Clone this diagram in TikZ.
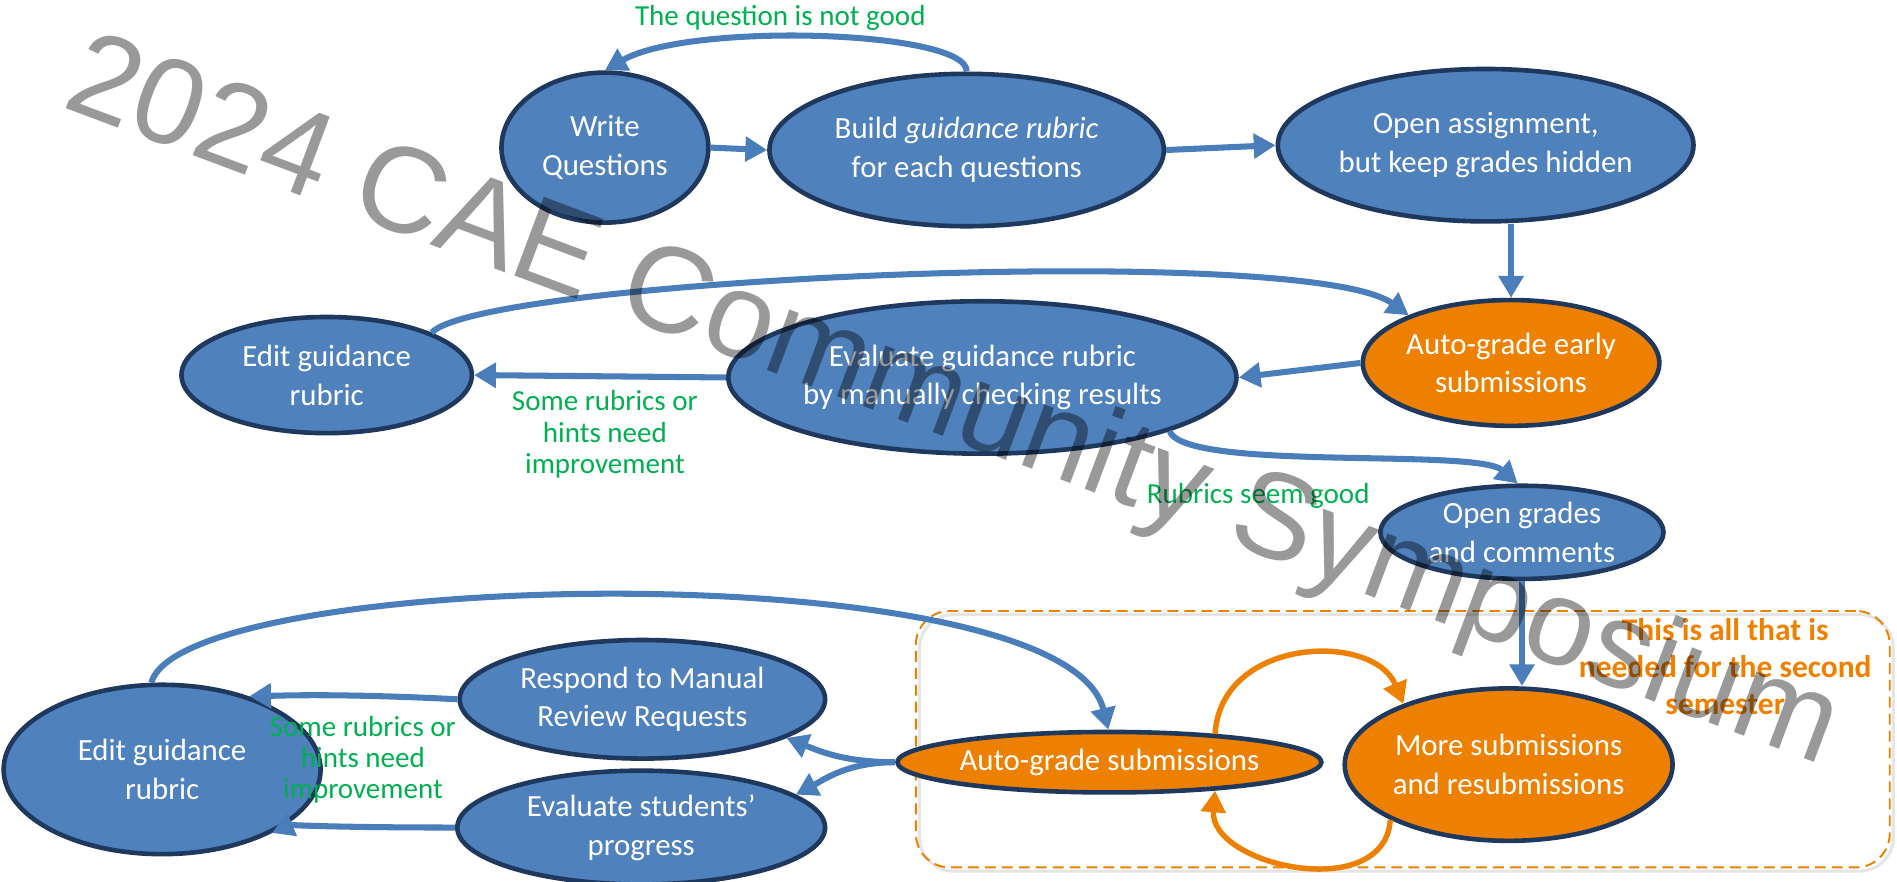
\documentclass[tikz,border=0pt]{standalone}
\usepackage{fontspec}
\setmainfont{Carlito}
\newfontfamily\wmfont{Liberation Sans}
\usetikzlibrary{arrows.meta,shapes.geometric}

\definecolor{nodeblue}{RGB}{79,129,189}
\definecolor{navy}{RGB}{31,56,93}
\definecolor{arrowblue}{RGB}{74,126,187}
\definecolor{orangefill}{RGB}{238,128,0}
\definecolor{labelgreen}{RGB}{0,176,80}

\begin{document}
\begin{tikzpicture}[x=1pt,y=-1pt,
  proc/.style={ellipse, draw=navy, line width=3.8pt, fill=nodeblue, text=white,
    align=center, inner sep=0pt, font=\fontsize{25.5}{32}\selectfont},
  autobox/.style={proc, fill=orangefill},
  flow/.style={draw=arrowblue, line width=5pt, -{Triangle[length=18pt,width=20pt]}},
  cycle/.style={draw=orangefill, line width=4.5pt, -{Triangle[length=18pt,width=20pt]}},
  note/.style={text=labelgreen, align=center, font=\fontsize{24}{26}\selectfont},
]
\useasboundingbox (0,0) rectangle (1568,729);

% group of steps repeated every semester
\node[draw=gray!40, line width=2.5pt, opacity=0.5, rounded corners=28pt,
      minimum width=805pt, minimum height=212pt] (groupshadow) at (1162.5,614) {};
\node[draw=orangefill, dashed, dash pattern=on 9pt off 5pt, line width=1.6pt, rounded corners=28pt,
      minimum width=805pt, minimum height=212pt] (group) at (1159.5,611) {};

% process steps
\node[proc, minimum width=171pt, minimum height=124pt] (wq) at (500,122) {Write\\Questions};
\node[proc, minimum width=326pt, minimum height=126pt] (build) at (799,124) {Build \textit{guidance rubric}\\for each questions};
\node[proc, minimum width=312pt, minimum height=126pt] (open) at (1228,120) {Open assignment,\\but keep grades hidden};
\node[autobox, minimum width=218pt, minimum height=104pt] (early) at (1249,300) {Auto-grade early\\submissions};
\node[proc, minimum width=420pt, minimum height=126pt] (eval) at (812,312) {Evaluate guidance rubric\\by manually checking results};
\node[proc, minimum width=240pt, minimum height=96pt] (edit1) at (270,310) {Edit guidance\\rubric};
\node[proc, minimum width=234pt, minimum height=77pt] (grades) at (1258,440) {Open grades\\and comments};
\node[autobox, minimum width=262pt, minimum height=126pt] (more) at (1247,632) {More submissions\\and resubmissions};
\node[autobox, minimum width=304pt, minimum height=50pt] (auto) at (917,630) {Auto-grade submissions};
\node[proc, minimum width=302pt, minimum height=98pt] (respond) at (531,578) {Respond to Manual\\Review Requests};
\node[proc, minimum width=304pt, minimum height=94pt] (evalst) at (530,684) {Evaluate students’\\progress};
\node[proc, minimum width=262pt, minimum height=140pt] (edit2) at (134,636) {Edit guidance\\rubric};

% connectors
\draw[flow] (build.north) .. controls (800,25) and (570,18) .. (wq.north);
\draw[flow] (wq.east) -- (build.west);
\draw[flow] (build.east) -- (open.west);
\draw[flow] (open.south -| early.north) -- (early.north);
\draw[flow] (early.west) -- (eval.east);
\draw[flow] (eval.west) -- (edit1.east);
\draw[flow] (edit1.22) .. controls (400,230) and (1080,200) .. (early.155);
\draw[flow] (eval.-16) .. controls (980,390) and (1220,370) .. (grades.95);
\draw[flow] (grades.south) -- (grades.south |- more.north);
\draw[cycle] (auto.15) .. controls +(5,-80) and +(-25,-60) .. (more.150);
\draw[cycle] (more.205) .. controls +(-5,70) and +(-5,62) .. (auto.-15);
\draw[flow] (edit2.97) .. controls (150,470) and (880,455) .. (auto.92);
\draw[flow] (auto.west) .. controls (700,630) and (680,622) .. (respond.-15);
\draw[flow] (auto.west) .. controls (700,630) and (680,645) .. (evalst.12);
\draw[flow] (respond.west) .. controls (280,573) and (230,575) .. (edit2.40);
\draw[flow] (evalst.west) .. controls (280,684) and (240,682) .. (edit2.-30);

% labels
\node[note] (lq) at (645,15) {The question is not good};
\node[note] (l1) at (500,359) {Some rubrics or\\hints need\\improvement};
\node[note] (lgood) at (1040,410) {Rubrics seem good};
\node[note] (l2) at (300,628) {Some rubrics or\\hints need\\improvement};
\node[text=orangefill, align=center, font=\bfseries\fontsize{26}{30.5}\selectfont] (lsem) at (1426,551)
  {This is all that is\\needed for the second\\semester};

% watermark
\node[font=\wmfont\fontsize{101}{101}\selectfont, text=black, text opacity=0.4,
      rotate=-20.5, anchor=base] (wm) at (778,360) {2024 CAE Community Symposium};
\end{tikzpicture}
\end{document}
